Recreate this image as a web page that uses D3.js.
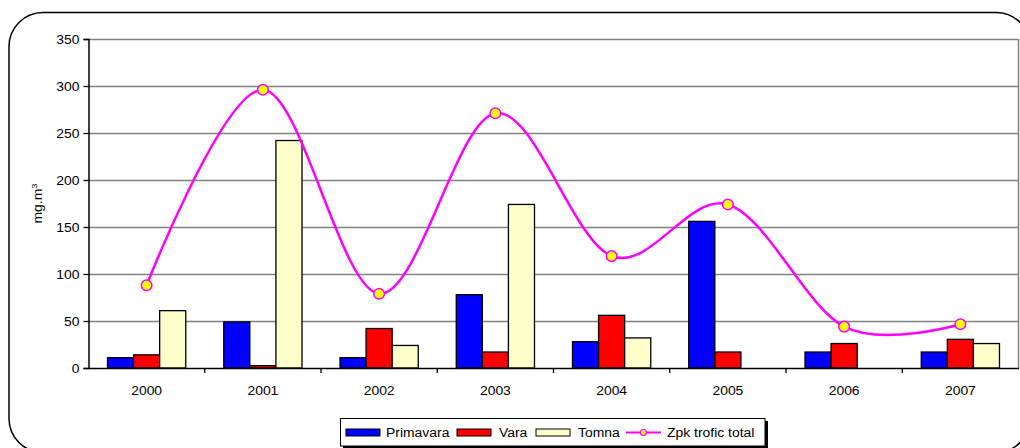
<!DOCTYPE html>
<html>
<head>
<meta charset="utf-8">
<script src="https://cdn.jsdelivr.net/npm/d3@7"></script>
<style>
  html, body { margin: 0; padding: 0; background: #fff; }
  svg { display: block; }
  text { font-family: "Liberation Sans", Arial, sans-serif; fill: #000; }
</style>
</head>
<body>
<svg id="chart" width="1020" height="448"></svg>
<script>
// Seasonal zooplankton biomass by year
const years = ["2000", "2001", "2002", "2003", "2004", "2005", "2006", "2007"];
const primavara = [11, 49, 11, 78, 28, 156, 17, 17];
const vara = [14, 2.5, 42, 17, 56, 17, 26, 30.5];
const tomna = [61, 242, 24, 174, 32, 0, 0, 26];
const zpkTotal = [88, 296, 79, 271, 119, 174, 44, 46.5];
const yTicks = [0, 50, 100, 150, 200, 250, 300, 350];

const seriesNames = ["Primavara", "Vara", "Tomna"];
const seriesColors = ["#0000ff", "#ff0000", "#ffffcc"];
const lineName = "Zpk trofic total";

const svg = d3.select("#chart");
const stretch = 1.16; // wide glyphs
const fontSize = 12;

// outer rounded frame
svg.append("rect")
  .attr("x", 9).attr("y", 12.5)
  .attr("width", 1021).attr("height", 440)
  .attr("rx", 34).attr("ry", 34)
  .attr("fill", "#fff").attr("stroke", "#000").attr("stroke-width", 1.5);

const plot = { left: 88.5, right: 1018.5, top: 39, bottom: 368 };

const x = d3.scaleBand().domain(years).range([plot.left, plot.right]).paddingInner(0).paddingOuter(0);
const y = d3.scaleLinear().domain([0, 350]).range([plot.bottom, plot.top]);
const groupPad = 19;
const sub = d3.scaleBand().domain(seriesNames)
  .range([groupPad, x.bandwidth() - groupPad]).padding(0);

function wideText(sel, px, py, anchor, str) {
  return sel.append("text")
    .attr("transform", `translate(${px},${py}) scale(${stretch},1)`)
    .attr("text-anchor", anchor)
    .attr("font-size", fontSize)
    .text(str);
}

// gridlines
svg.append("g").selectAll("line").data(yTicks.filter(d => d > 0)).join("line")
  .attr("x1", plot.left).attr("x2", plot.right)
  .attr("y1", d => Math.round(y(d)) + 0.5).attr("y2", d => Math.round(y(d)) + 0.5)
  .attr("stroke", "#808080").attr("stroke-width", 1.5);

// right border of plot
svg.append("line")
  .attr("x1", plot.right).attr("x2", plot.right)
  .attr("y1", plot.top).attr("y2", plot.bottom)
  .attr("stroke", "#808080").attr("stroke-width", 1.5);

// bars
const seriesData = [primavara, vara, tomna];
const barG = svg.append("g");
seriesData.forEach((vals, si) => {
  barG.selectAll(null).data(vals.map((v, i) => ({ v, year: years[i] })).filter(d => d.v > 0))
    .join("rect")
    .attr("x", d => x(d.year) + sub(seriesNames[si]))
    .attr("y", d => y(d.v))
    .attr("width", sub.bandwidth())
    .attr("height", d => y(0) - y(d.v))
    .attr("fill", seriesColors[si])
    .attr("stroke", "#000").attr("stroke-width", 1.3);
});

// y axis
const yAxis = svg.append("g").attr("transform", `translate(${plot.left},0)`)
  .call(d3.axisLeft(y).tickValues(yTicks).tickSize(5).tickFormat(""));
yAxis.select(".domain").attr("stroke", "#000").attr("stroke-width", 1.5);
yAxis.selectAll(".tick line").attr("stroke", "#000").attr("stroke-width", 1.3);
yTicks.forEach(t => wideText(svg, plot.left - 9, y(t) + 4.5, "end", String(t)));

// x axis
const xAxis = svg.append("g").attr("transform", `translate(0,${plot.bottom})`)
  .call(d3.axisBottom(x).tickSize(0).tickFormat(""));
xAxis.select(".domain").attr("stroke", "#000").attr("stroke-width", 1.5);
svg.append("g").selectAll("line").data(years.slice(1)).join("line")
  .attr("x1", d => x(d)).attr("x2", d => x(d))
  .attr("y1", plot.bottom).attr("y2", plot.bottom + 5)
  .attr("stroke", "#000").attr("stroke-width", 1.3);
years.forEach(yr => wideText(svg, x(yr) + x.bandwidth() / 2, 395, "middle", yr));

// y title
const yt = svg.append("text")
  .attr("transform", `translate(42,${(plot.top + plot.bottom) / 2}) rotate(-90) scale(${stretch},1)`)
  .attr("text-anchor", "middle").attr("font-size", fontSize);
yt.append("tspan").text("mg.m");
yt.append("tspan").attr("font-size", 8).attr("dy", -5).text("3");

// total line (smoothed)
const pts = zpkTotal.map((v, i) => [x(years[i]) + x.bandwidth() / 2, y(v)]);
svg.append("path")
  .attr("d", d3.line().curve(d3.curveCatmullRom.alpha(0))(pts))
  .attr("fill", "none").attr("stroke", "#ff00ff").attr("stroke-width", 2.5);
svg.append("g").selectAll("circle").data(pts).join("circle")
  .attr("cx", d => d[0]).attr("cy", d => d[1]).attr("r", 5.3)
  .attr("fill", "#ffff00").attr("stroke", "#ff00ff").attr("stroke-width", 1.5);

// legend
const lg = svg.append("g");
lg.append("rect").attr("x", 343).attr("y", 421).attr("width", 425).attr("height", 28).attr("fill", "#000");
lg.append("rect").attr("x", 340.5).attr("y", 418.5).attr("width", 424.5).attr("height", 27.5)
  .attr("fill", "#fff").attr("stroke", "#000").attr("stroke-width", 1);
const swX = [346, 457, 536];
const txX = [386, 499, 578];
seriesNames.forEach((n, i) => {
  lg.append("rect").attr("x", swX[i]).attr("y", 429).attr("width", 34).attr("height", 7)
    .attr("fill", seriesColors[i]).attr("stroke", "#000").attr("stroke-width", 1);
  wideText(lg, txX[i], 437, "start", n);
});
lg.append("line").attr("x1", 626).attr("x2", 661).attr("y1", 432.5).attr("y2", 432.5)
  .attr("stroke", "#ff00ff").attr("stroke-width", 2);
lg.append("circle").attr("cx", 643.5).attr("cy", 432.5).attr("r", 3)
  .attr("fill", "#ffff00").attr("stroke", "#ff00ff").attr("stroke-width", 1.2);
wideText(lg, 667, 437, "start", lineName);
</script>
</body>
</html>
